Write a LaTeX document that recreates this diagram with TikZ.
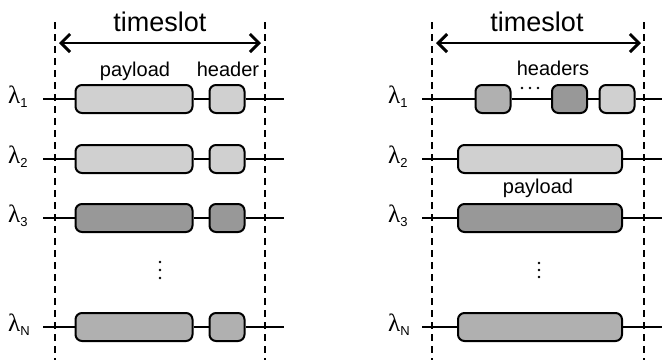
\documentclass[tikz,border=0pt]{standalone}
\usepackage{fontspec}
\setmainfont{Liberation Sans}
\newfontfamily\lamfont{Liberation Serif}
\usetikzlibrary{arrows.meta}
\definecolor{lightfill}{HTML}{D0D0D0}
\definecolor{midfill}{HTML}{B0B0B0}
\definecolor{darkfill}{HTML}{989898}
\tikzset{
  pkt/.style={draw=black, line width=2pt, rounded corners=6.5pt, inner sep=0pt,
    minimum height=28pt},
  hdr/.style={pkt, minimum width=35pt},
  pay/.style={pkt, minimum width=117pt},
  payr/.style={pkt, minimum width=164pt},
  wire/.style={line width=2pt},
  slotline/.style={line width=1.3pt, dash pattern=on 7pt off 5pt},
  slotarrow/.style={line width=2.4pt, {Straight Barb[length=9pt,width=18pt,line width=3pt]}-{Straight Barb[length=9pt,width=18pt,line width=3pt]}},
  lam/.style={anchor=base west, inner sep=0pt},
  lbl/.style={anchor=base, inner sep=0pt, font=\fontsize{20}{20}\selectfont},
  big/.style={anchor=base, inner sep=0pt, font=\fontsize{27}{27}\selectfont},
  vdot/.style={circle, fill=black, inner sep=0pt, minimum size=2.8pt}
}
\newcommand{\lamsub}[1]{{\lamfont\fontsize{25}{25}\selectfont λ}\raisebox{-4pt}{\fontsize{13}{13}\selectfont #1}}
\begin{document}
\begin{tikzpicture}[x=1pt,y=-1pt]
\useasboundingbox (0,0) rectangle (662,360);
% ---------- left panel ----------
\coordinate (LdT) at (55,22); \coordinate (LdB) at (55,360);
\coordinate (RdT) at (265,22); \coordinate (RdB) at (265,360);
\draw[slotline] (LdT) -- (LdB);
\draw[slotline] (RdT) -- (RdB);
\coordinate (La) at (59,43); \coordinate (Lb) at (261,43);
\draw[slotarrow] (La) -- (Lb);
\node[big] (Lts) at (160,31) {timeslot};
\node[lbl] (Lpl) at (135,76) {payload};
\node[lbl] (Lhl) at (228,76) {header};

\foreach \i/\y/\s/\pf/\hf in {1/99/1/lightfill/lightfill, 2/159/2/lightfill/lightfill, 3/218/3/darkfill/darkfill, N/327/N/midfill/midfill}{
  \node[lam] (Llam\i) at (8,\y+4) {\lamsub{\s}};
  \coordinate (Ls\i) at (43,\y);
  \coordinate (Le\i) at (284,\y);
  \node[pay, fill=\pf] (Lp\i) at (134,\y) {};
  \node[hdr, fill=\hf] (Lh\i) at (227,\y) {};
  \draw[wire] (Ls\i) -- (Lp\i.west);
  \draw[wire] (Lp\i.east) -- (Lh\i.west);
  \draw[wire] (Lh\i.east) -- (Le\i);
}
\node[vdot] (Lv1) at (160,262) {};
\node[vdot] (Lv2) at (160,270) {};
\node[vdot] (Lv3) at (160,278) {};

% ---------- right panel ----------
\coordinate (RLdT) at (432,22); \coordinate (RLdB) at (432,360);
\coordinate (RRdT) at (644,22); \coordinate (RRdB) at (644,360);
\draw[slotline] (RLdT) -- (RLdB);
\draw[slotline] (RRdT) -- (RRdB);
\coordinate (Ra) at (436,43); \coordinate (Rb) at (641,43);
\draw[slotarrow] (Ra) -- (Rb);
\node[big] (Rts) at (537,31) {timeslot};
\node[lbl] (Rhl) at (553,75) {headers};
\node[lbl] (Rpl) at (538,193) {payload};

% lambda 1: headers
\node[lam] (Rlam1) at (388,103) {\lamsub{1}};
\coordinate (Rs1) at (422,99); \coordinate (Re1) at (662,99);
\node[hdr, fill=midfill] (Rh1) at (493,99) {};
\node[hdr, fill=darkfill] (Rh2) at (569.5,99) {};
\node[hdr, fill=lightfill] (Rh3) at (617,99) {};
\draw[wire] (Rs1) -- (Rh1.west);
\draw[wire] (Rh1.east) -- (Rh2.west);
\draw[wire] (Rh2.east) -- (Rh3.west);
\draw[wire] (Rh3.east) -- (Re1);
\node[vdot] (Rd1) at (522,88) {};
\node[vdot] (Rd2) at (530,88) {};
\node[vdot] (Rd3) at (538,88) {};

\foreach \i/\y/\s/\pf in {2/159/2/lightfill, 3/218/3/darkfill, N/327/N/midfill}{
  \node[lam] (Rlam\i) at (388,\y+4) {\lamsub{\s}};
  \coordinate (Rs\i) at (422,\y);
  \coordinate (Re\i) at (662,\y);
  \node[payr, fill=\pf] (Rp\i) at (540,\y) {};
  \draw[wire] (Rs\i) -- (Rp\i.west);
  \draw[wire] (Rp\i.east) -- (Re\i);
}
\node[vdot] (Rv1) at (539,263) {};
\node[vdot] (Rv2) at (539,270) {};
\node[vdot] (Rv3) at (539,277) {};
\end{tikzpicture}
\end{document}
